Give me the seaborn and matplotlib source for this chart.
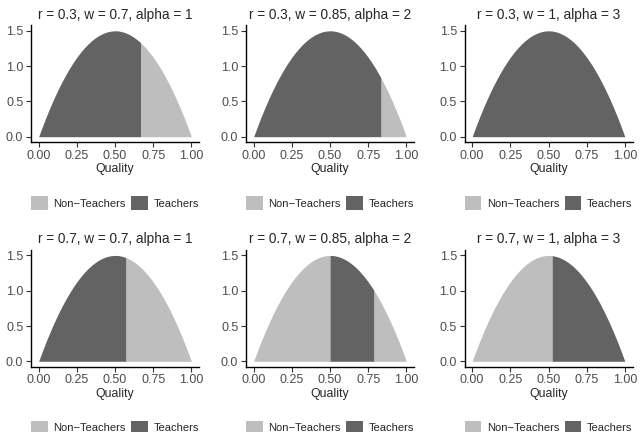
import numpy as np
import pandas as pd
import matplotlib
matplotlib.use("Agg")
import matplotlib.pyplot as plt
from matplotlib.patches import Patch
import seaborn as sns

# Quality grid and the density of quality at each grid point
quality = [0.000, 0.025, 0.050, 0.075, 0.100, 0.125, 0.150, 0.175, 0.200, 0.225,
           0.250, 0.275, 0.300, 0.325, 0.350, 0.375, 0.400, 0.425, 0.450, 0.475,
           0.500, 0.524, 0.550, 0.570, 0.600, 0.625, 0.650, 0.667, 0.675, 0.700,
           0.725, 0.750, 0.775, 0.786, 0.800, 0.825, 0.833, 0.850, 0.875, 0.900,
           0.925, 0.950, 0.975, 1.000]
density = [0.000, 0.146, 0.285, 0.416, 0.540, 0.656, 0.765, 0.866, 0.960, 1.046,
           1.125, 1.196, 1.260, 1.316, 1.365, 1.406, 1.440, 1.466, 1.485, 1.496,
           1.500, 1.497, 1.485, 1.471, 1.440, 1.406, 1.365, 1.333, 1.316, 1.260,
           1.196, 1.125, 1.046, 1.009, 0.960, 0.866, 0.835, 0.765, 0.656, 0.540,
           0.416, 0.285, 0.146, 0.000]

# Scenario parameters, one per panel
r_vals = [0.3, 0.3, 0.3, 0.7, 0.7, 0.7]
w_vals = [0.7, 0.85, 1, 0.7, 0.85, 1]
alpha_vals = [1, 2, 3, 1, 2, 3]
# Quality interval of those who become teachers
teacher_lo = [0.0, 0.0, 0.0, 0.0, 0.5, 0.524]
teacher_hi = [0.667, 0.833, 1.0, 0.57, 0.786, 1.0]

x_ticks = [0.00, 0.25, 0.50, 0.75, 1.00]
y_ticks = [0.0, 0.5, 1.0, 1.5]
groups = ["Non\u2212Teachers", "Teachers"]
palette = {"Non\u2212Teachers": "#BEBEBE", "Teachers": "#636363"}

sns.set_theme(style="ticks")
plt.rcParams["font.family"] = ["Liberation Sans", "DejaVu Sans"]

df = pd.DataFrame({"quality": quality, "density": density})

W, H = 640, 432
fig = plt.figure(figsize=(W / 100, H / 100), dpi=100)

col_left = [31, 246, 464.5]
row_bottom = [142, 366.6]
ax_w, ax_h = 168, 116.5

for i in range(6):
    row, col = divmod(i, 3)
    ax = fig.add_axes([col_left[col] / W, (H - row_bottom[row]) / H, ax_w / W, ax_h / H])
    q = df["quality"].to_numpy()
    d = df["density"].to_numpy()
    teach = (q >= teacher_lo[i]) & (q <= teacher_hi[i])
    before = q <= teacher_lo[i]
    after = q >= teacher_hi[i]
    if teacher_lo[i] > 0:
        ax.fill_between(q, 0, d, where=before, color=palette[groups[0]], linewidth=0)
    if teacher_hi[i] < 1:
        ax.fill_between(q, 0, d, where=after, color=palette[groups[0]], linewidth=0)
    ax.fill_between(q, 0, d, where=teach, color=palette[groups[1]], linewidth=0)

    ax.set_xlim(-0.05, 1.05)
    ax.set_ylim(-0.075, 1.575)
    ax.set_xticks(x_ticks)
    ax.set_xticklabels([f"{t:.2f}" for t in x_ticks])
    ax.set_yticks(y_ticks)
    ax.set_yticklabels([f"{t:.1f}" for t in y_ticks])
    ax.tick_params(axis="both", labelsize=9, colors="#333333", labelcolor="#4D4D4D",
                   length=3.5, width=0.8, pad=2)
    sns.despine(ax=ax)
    for s in ("left", "bottom"):
        ax.spines[s].set_color("black")
        ax.spines[s].set_linewidth(1.0)
    ax.set_xlabel("Quality", fontsize=8.8, labelpad=1)
    ax.set_ylabel("")
    ax.set_title(f"r = {r_vals[i]:g}, w = {w_vals[i]:g}, alpha = {alpha_vals[i]:g}",
                 fontsize=9.8, pad=5)
    handles = [Patch(facecolor=palette[g], edgecolor="none", label=g) for g in groups]
    ax.legend(handles=handles, loc="center", bbox_to_anchor=(0.5, -61 / ax_h),
              ncol=2, frameon=False, fontsize=8, handlelength=1.5, handleheight=1.5,
              handletextpad=0.5, columnspacing=0.5)

fig.savefig("out.png", dpi=100)
